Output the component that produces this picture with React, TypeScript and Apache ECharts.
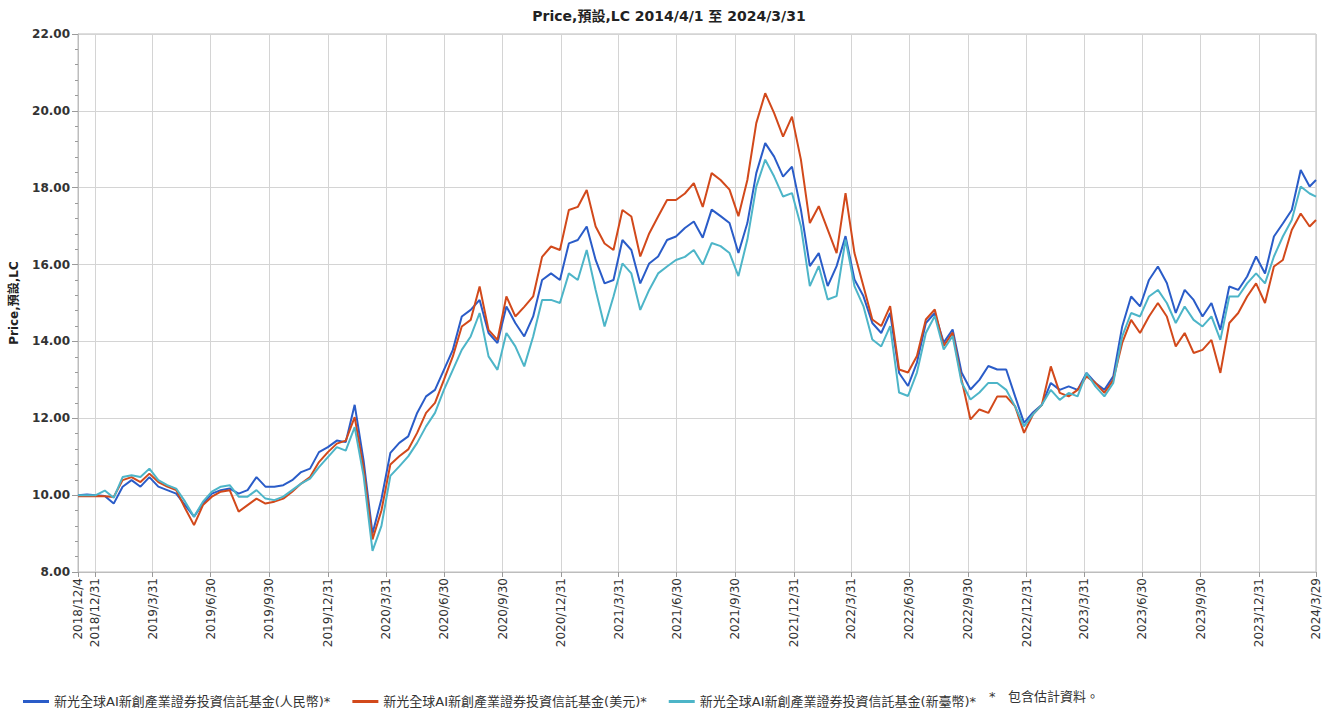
import React, { useEffect, useRef } from "react";
import * as echarts from "echarts";

const titleText = "Price,預設,LC 2014/4/1 至 2024/3/31";
const yAxisName = "Price,預設,LC";
const seriesNames = [
  "新光全球AI新創產業證券投資信託基金(人民幣)*",
  "新光全球AI新創產業證券投資信託基金(美元)*",
  "新光全球AI新創產業證券投資信託基金(新臺幣)*",
];
const noteText = "*   包含估計資料。";
const seriesColors = ["#2a5cc8", "#d2491b", "#4db5c8"];

const startDate = [2018, 12, 4];
const endDate = [2024, 3, 29];
const sampleStepDays = 14;

const tickLabels = [
  "2018/12/4", "2018/12/31", "2019/3/31", "2019/6/30", "2019/9/30", "2019/12/31",
  "2020/3/31", "2020/6/30", "2020/9/30", "2020/12/31", "2021/3/31", "2021/6/30",
  "2021/9/30", "2021/12/31", "2022/3/31", "2022/6/30", "2022/9/30", "2022/12/31",
  "2023/3/31", "2023/6/30", "2023/9/30", "2023/12/31", "2024/3/29",
];

const cnyValues = [
  10.00, 10.02, 10.00, 9.98, 9.78, 10.22, 10.39, 10.22, 10.47, 10.22,
  10.13, 10.04, 9.74, 9.44, 9.78, 10.04, 10.13, 10.17, 10.04, 10.13,
  10.47, 10.22, 10.22, 10.26, 10.39, 10.60, 10.69, 11.12, 11.25, 11.42,
  11.38, 12.35, 10.90, 9.00, 9.90, 11.10, 11.36, 11.53, 12.14, 12.57,
  12.74, 13.26, 13.78, 14.65, 14.82, 15.08, 14.22, 13.96, 14.91, 14.48,
  14.13, 14.65, 15.60, 15.77, 15.60, 16.55, 16.64, 16.99, 16.12, 15.51,
  15.60, 16.64, 16.38, 15.51, 16.03, 16.21, 16.64, 16.73, 16.95, 17.12,
  16.70, 17.43, 17.26, 17.08, 16.30, 17.08, 18.38, 19.16, 18.81, 18.29,
  18.55, 17.43, 15.96, 16.30, 15.44, 15.96, 16.74, 15.61, 15.18, 14.48,
  14.22, 14.74, 13.18, 12.84, 13.45, 14.48, 14.74, 13.97, 14.31, 13.19,
  12.75, 13.00, 13.36, 13.27, 13.27, 12.57, 11.88, 12.15, 12.35, 12.92,
  12.74, 12.83, 12.74, 13.18, 12.92, 12.74, 13.09, 14.39, 15.17, 14.91,
  15.60, 15.95, 15.52, 14.74, 15.34, 15.08, 14.65, 15.00, 14.30, 15.43,
  15.34, 15.69, 16.21, 15.77, 16.73, 17.07, 17.42, 18.46, 18.03, 18.20,
];

const usdValues = [
  9.97, 9.97, 9.98, 9.97, 9.95, 10.39, 10.47, 10.34, 10.56, 10.34,
  10.22, 10.13, 9.66, 9.22, 9.74, 9.96, 10.09, 10.13, 9.57, 9.74,
  9.91, 9.78, 9.83, 9.91, 10.09, 10.30, 10.47, 10.86, 11.12, 11.34,
  11.42, 12.03, 10.70, 8.85, 9.60, 10.80, 11.01, 11.19, 11.62, 12.14,
  12.40, 13.00, 13.61, 14.39, 14.56, 15.43, 14.30, 14.04, 15.17, 14.65,
  14.90, 15.17, 16.20, 16.47, 16.38, 17.42, 17.50, 17.94, 16.99, 16.55,
  16.38, 17.42, 17.25, 16.21, 16.81, 17.25, 17.68, 17.68, 17.85, 18.12,
  17.50, 18.38, 18.20, 17.95, 17.26, 18.20, 19.68, 20.46, 19.94, 19.33,
  19.85, 18.73, 17.08, 17.52, 16.91, 16.30, 17.86, 16.30, 15.44, 14.57,
  14.40, 14.92, 13.27, 13.19, 13.62, 14.57, 14.83, 13.88, 14.23, 13.01,
  11.97, 12.23, 12.14, 12.57, 12.57, 12.31, 11.62, 12.10, 12.35, 13.35,
  12.66, 12.57, 12.74, 13.09, 12.92, 12.66, 13.00, 13.96, 14.56, 14.22,
  14.65, 15.00, 14.65, 13.87, 14.22, 13.70, 13.78, 14.04, 13.18, 14.48,
  14.74, 15.17, 15.51, 15.00, 15.95, 16.12, 16.90, 17.33, 16.99, 17.16,
];

const twdValues = [
  10.00, 10.00, 10.00, 10.12, 9.93, 10.47, 10.52, 10.47, 10.69, 10.39,
  10.26, 10.17, 9.83, 9.44, 9.83, 10.09, 10.22, 10.26, 9.96, 9.96,
  10.13, 9.91, 9.87, 9.96, 10.13, 10.30, 10.43, 10.73, 10.99, 11.25,
  11.16, 11.77, 10.50, 8.55, 9.20, 10.50, 10.75, 11.01, 11.36, 11.79,
  12.14, 12.74, 13.26, 13.78, 14.13, 14.74, 13.61, 13.26, 14.22, 13.87,
  13.35, 14.13, 15.08, 15.08, 15.00, 15.77, 15.60, 16.38, 15.34, 14.39,
  15.17, 16.03, 15.77, 14.82, 15.34, 15.77, 15.95, 16.12, 16.20, 16.38,
  16.00, 16.56, 16.48, 16.30, 15.70, 16.65, 18.03, 18.73, 18.29, 17.77,
  17.86, 17.00, 15.44, 15.96, 15.09, 15.18, 16.65, 15.44, 14.92, 14.05,
  13.87, 14.40, 12.67, 12.58, 13.19, 14.22, 14.66, 13.79, 14.14, 12.93,
  12.49, 12.67, 12.92, 12.92, 12.74, 12.31, 11.79, 12.10, 12.35, 12.74,
  12.48, 12.66, 12.57, 13.18, 12.83, 12.57, 12.92, 14.13, 14.74, 14.65,
  15.17, 15.34, 15.00, 14.48, 14.91, 14.56, 14.39, 14.65, 14.04, 15.17,
  15.17, 15.51, 15.77, 15.51, 16.21, 16.73, 17.16, 18.03, 17.85, 17.77,
];

const DAY = 86400000;
const fmt = (t: number) => {
  const d = new Date(t);
  return `${d.getUTCFullYear()}/${d.getUTCMonth() + 1}/${d.getUTCDate()}`;
};

function buildAxisDays(): string[] {
  const s = Date.UTC(startDate[0], startDate[1] - 1, startDate[2]);
  const e = Date.UTC(endDate[0], endDate[1] - 1, endDate[2]);
  const out: string[] = [];
  for (let t = s; t <= e; t += DAY) out.push(fmt(t));
  return out;
}

function buildSampleDates(count: number): string[] {
  const s = Date.UTC(startDate[0], startDate[1] - 1, startDate[2]);
  const e = Date.UTC(endDate[0], endDate[1] - 1, endDate[2]);
  const out: string[] = [];
  for (let i = 0; i < count - 1; i++) out.push(fmt(s + i * sampleStepDays * DAY));
  out.push(fmt(e));
  return out;
}

const FONT = "'DejaVu Sans', 'Noto Sans CJK TC', sans-serif";

export default function App() {
  const ref = useRef<HTMLDivElement>(null);
  useEffect(() => {
    if (!ref.current) return;
    const chart = echarts.init(ref.current, undefined, { renderer: "svg" });
    const days = buildAxisDays();
    const sampleDates = buildSampleDates(cnyValues.length);
    const tickSet = new Set(tickLabels);
    const showAt = (_i: number, v: string) => tickSet.has(v);
    const allValues = [cnyValues, usdValues, twdValues];

    chart.setOption({
      animation: false,
      backgroundColor: "#ffffff",
      title: {
        text: titleText,
        left: "center",
        top: 4,
        textStyle: { fontSize: 14, fontWeight: "bold", color: "#222", fontFamily: FONT },
      },
      grid: {
        left: 78,
        right: 22,
        top: 34,
        bottom: 136,
        show: true,
        borderColor: "#bdbdbd",
        borderWidth: 1,
      },
      legend: {
        left: 18,
        top: 690,
        icon: "rect",
        itemWidth: 26,
        itemHeight: 3,
        itemGap: 22,
        textStyle: { fontSize: 13, color: "#333", fontFamily: FONT },
        data: seriesNames,
      },
      graphic: [
        {
          type: "text",
          left: 989,
          top: 690,
          style: { text: noteText, fontSize: 13, fill: "#333", fontFamily: FONT },
        },
      ],
      xAxis: {
        type: "category",
        data: days,
        boundaryGap: false,
        axisLine: { show: true, lineStyle: { color: "#bdbdbd" } },
        axisTick: { show: true, interval: showAt, length: 5, lineStyle: { color: "#9a9a9a" } },
        axisLabel: {
          interval: showAt,
          rotate: 90,
          margin: 6,
          fontSize: 12,
          color: "#333",
          fontFamily: FONT,
        },
        splitLine: { show: true, interval: showAt, lineStyle: { color: "#d4d4d4", width: 1 } },
      },
      yAxis: {
        type: "value",
        min: 8,
        max: 22,
        interval: 2,
        name: yAxisName,
        nameLocation: "middle",
        nameGap: 58,
        nameRotate: 90,
        nameTextStyle: { fontSize: 12, fontWeight: "bold", color: "#222", fontFamily: FONT },
        axisLine: { show: true, lineStyle: { color: "#bdbdbd" } },
        axisTick: { show: true, inside: false, length: 6, lineStyle: { color: "#9a9a9a" } },
        minorTick: { show: true, splitNumber: 5, length: 3, lineStyle: { color: "#9a9a9a" } },
        axisLabel: {
          formatter: (v: number) => v.toFixed(2),
          fontSize: 12,
          fontWeight: "bold",
          color: "#333",
          margin: 8,
          fontFamily: FONT,
        },
        splitLine: { show: true, lineStyle: { color: "#d4d4d4", width: 1 } },
      },
      series: seriesNames.map((name, k) => ({
        name,
        type: "line",
        symbol: "none",
        color: seriesColors[k],
        lineStyle: { width: 2, color: seriesColors[k] },
        data: sampleDates.map((d, i) => [d, allValues[k][i]]),
      })),
    });
    return () => chart.dispose();
  }, []);
  return (
    <div
      ref={ref}
      style={{ position: "fixed", left: 0, top: 0, width: 1338, height: 708 }}
    />
  );
}
